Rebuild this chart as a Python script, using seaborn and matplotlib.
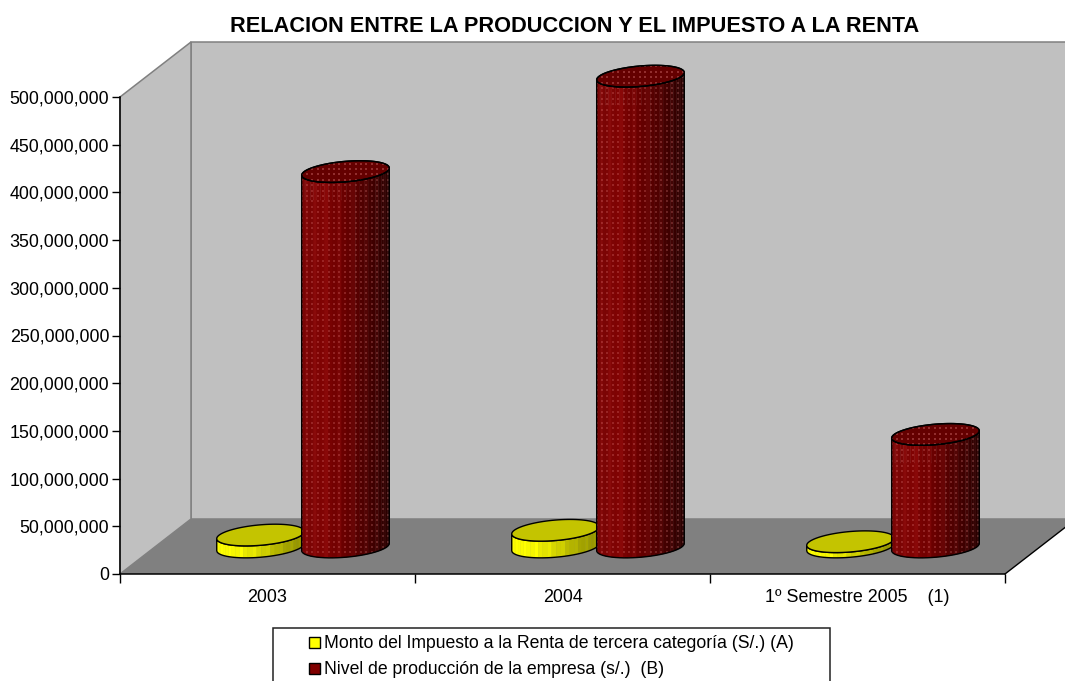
import matplotlib
matplotlib.use('Agg')
import matplotlib.pyplot as plt
import numpy as np
import pandas as pd
import seaborn as sns
from matplotlib.collections import PolyCollection
from matplotlib.colors import LinearSegmentedColormap
from matplotlib.patches import Polygon, Rectangle
from matplotlib.ticker import MultipleLocator, StrMethodFormatter

# values
periods = ['2003', '2004', '1º Semestre 2005    (1)']
impuesto = [12000000, 17000000, 5000000]
produccion = [393000000, 493000000, 117500000]
serie_a = 'Monto del Impuesto a la Renta de tercera categoría (S/.) (A)'
serie_b = 'Nivel de producción de la empresa (s/.)  (B)'

df = pd.DataFrame({
    'periodo': periods * 2,
    'valor': impuesto + produccion,
    'serie': [serie_a] * 3 + [serie_b] * 3,
})

sns.set_theme(style='white')
plt.rcParams['font.family'] = ['Liberation Sans', 'DejaVu Sans']
plt.rcParams['text.color'] = 'black'

W, H = 1065, 681
fig = plt.figure(figsize=(W / 100, H / 100), dpi=100)
ax = fig.add_axes([120 / W, (H - 574) / H, 885 / W, 477 / H])

sns.barplot(data=df, x='periodo', y='valor', hue='serie', order=periods,
            hue_order=[serie_a, serie_b], palette=['#ffff00', '#800000'],
            saturation=1, width=0.576, gap=-0.035, ax=ax)
ax.set_xlim(-0.5, 2.5)
ax.set_ylim(0, 500000000)
ax.set_xlabel('')
ax.set_ylabel('')

# pixel -> data scale of the axes, depth of the fake 3D box
ux = 3 / 885
uy = 500000000 / 477
DX = 71 * ux
DY = 55 * uy

# walls and floor
ymax = 500000000
ax.add_patch(Polygon([(-0.5, 0), (-0.5 + DX, DY), (-0.5 + DX, ymax + DY), (-0.5, ymax)],
                     fc='#c0c0c0', ec='#808080', lw=1.1, clip_on=False, zorder=0.5))
ax.add_patch(Polygon([(-0.5 + DX, DY), (2.5 + DX, DY), (2.5 + DX, ymax + DY), (-0.5 + DX, ymax + DY)],
                     fc='#c0c0c0', ec='#808080', lw=1.1, clip_on=False, zorder=0.4))
ax.add_patch(Polygon([(-0.5, 0), (2.5, 0), (2.5 + DX, DY), (-0.5 + DX, DY)],
                     fc='#808080', ec='none', clip_on=False, zorder=0.6))
ax.plot([2.5, 2.5 + DX], [0, DY], color='black', lw=1, clip_on=False, zorder=0.7)

# cylinders on top of the bars that seaborn made
TILT = np.deg2rad(5)
B_PX = 10.2
side_cmaps = [
    LinearSegmentedColormap.from_list('am', ['#ffff00', '#f4f400', '#d4d400', '#a8a800', '#909000']),
    LinearSegmentedColormap.from_list('ro', ['#780606', '#800303', '#680000', '#480000', '#280000']),
]
top_colors = ['#c4c400', '#640000']


def ring(cx, cy, a_px, t):
    px = a_px * np.cos(t) * np.cos(TILT) - B_PX * np.sin(t) * np.sin(TILT)
    py = a_px * np.cos(t) * np.sin(TILT) + B_PX * np.sin(t) * np.cos(TILT)
    return cx + px * ux, cy + py * uy


for s, cont in enumerate(ax.containers):
    for bar in cont:
        w = bar.get_width()
        cx = bar.get_x() + w / 2 + DX / 2
        a_px = w / 2 / ux
        y0 = DY / 2 - 0.5 * uy
        y1 = bar.get_height() + DY / 2
        z = 3 + s

        t = np.linspace(np.pi, 2 * np.pi, 31)
        bx, by = ring(cx, y0, a_px, t)
        tx, ty = ring(cx, y1, a_px, t)

        faces, cols = [], []
        for i in range(len(t) - 1):
            faces.append([(bx[i], by[i]), (bx[i + 1], by[i + 1]), (tx[i + 1], ty[i + 1]), (tx[i], ty[i])])
            pos = ((bx[i] + bx[i + 1]) / 2 - (cx - w / 2)) / w
            rgba = np.array(side_cmaps[s](pos))
            if i % 3 == 1:
                rgba[:3] = np.minimum(rgba[:3] * 1.06 + 0.02 * s, 1)
            cols.append(rgba)
        ax.add_collection(PolyCollection(faces, facecolors=cols, edgecolors=cols, linewidths=0.3,
                                         clip_on=False, zorder=z))

        outline = list(zip(bx, by)) + list(zip(tx[::-1], ty[::-1]))
        body = Polygon(outline, fc='none', ec='black', lw=1.0, clip_on=False, zorder=z + 0.2)
        ax.add_patch(body)

        allt = np.linspace(0, 2 * np.pi, 90)
        ex, ey = ring(cx, y1, a_px, allt)
        cap = Polygon(list(zip(ex, ey)), fc=top_colors[s], ec='black', lw=1.0, clip_on=False, zorder=z + 0.3)
        ax.add_patch(cap)

        # the original bar stays underneath, cut to the cylinder
        bar.set_clip_path(body)

        if s == 1:
            # dotted fill of the red series
            gx = np.arange(cx - w / 2, cx + w / 2, 5.4 * ux)
            gy = np.arange(0, y1 + 12 * uy, 5.4 * uy)
            xx, yy = np.meshgrid(gx, gy)
            for clip, zz, al in [(body, z + 0.1, 0.22), (cap, z + 0.4, 0.3)]:
                dots = ax.scatter(xx.ravel(), yy.ravel(), s=0.6, marker='s', color='#ff9a9a',
                                  linewidths=0, alpha=al, zorder=zz, clip_on=True)
                dots.set_clip_path(clip)
            ax.add_patch(Polygon(list(zip(ex, ey)), fc='none', ec='black', lw=1.0,
                                 clip_on=False, zorder=z + 0.5))

# axes
ax.yaxis.set_major_locator(MultipleLocator(50000000))
ax.yaxis.set_major_formatter(StrMethodFormatter('{x:,.0f}'))
ax.tick_params(axis='y', left=True, length=5.8, width=1, color='black', labelsize=12.85,
               labelcolor='black', pad=2)
ax.set_xticks([-0.5, 0.5, 1.5, 2.5], labels=['', '', '', ''])
ax.set_xticks([0, 1, 2], labels=periods, minor=True)
ax.tick_params(axis='x', which='major', bottom=True, length=6.5, width=1, color='black')
ax.tick_params(axis='x', which='minor', bottom=False, length=0, labelsize=12.85,
               labelcolor='black', pad=11)
for side in ['top', 'right']:
    ax.spines[side].set_visible(False)
for side in ['left', 'bottom']:
    ax.spines[side].set_color('black')
    ax.spines[side].set_linewidth(1.1)

fig.text(575 / W, 1 - 27 / H, 'RELACION ENTRE LA PRODUCCION Y EL IMPUESTO A LA RENTA',
         ha='center', va='center', fontsize=15.65, fontweight='bold')

# legend, with the box drawn apart since its side padding is much wider than the top one
sns.move_legend(ax, loc='upper left', bbox_to_anchor=(309 / W, 1 - 635.5 / H),
                bbox_transform=fig.transFigure, frameon=False, title=None, borderpad=0,
                borderaxespad=0, fontsize=12.67, handlelength=0.6, handleheight=0.6,
                handletextpad=0.25, labelspacing=0.5)
for h in ax.get_legend().legend_handles:
    h.set_edgecolor('black')
    h.set_linewidth(1)
fig.add_artist(Rectangle((273 / W, -0.02), (830 - 273) / W, 1 - 627.5 / H + 0.02,
                         transform=fig.transFigure, fill=False, ec='#222222', lw=1.1))

fig.savefig('out.png', dpi=100)
